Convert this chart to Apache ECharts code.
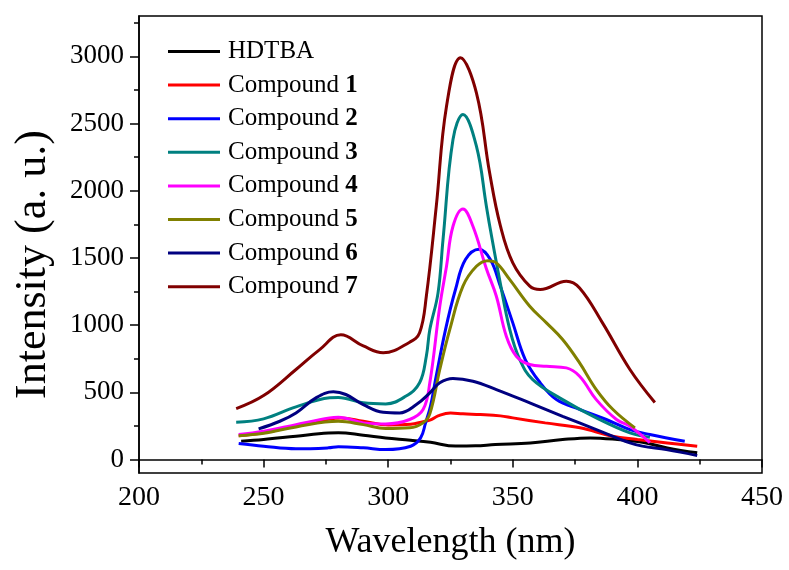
<!DOCTYPE html>
<html>
<head>
<meta charset="utf-8">
<script src="https://cdn.jsdelivr.net/npm/echarts@6/dist/echarts.min.js"></script>
<style>html,body{margin:0;padding:0;background:#fff}#c{width:789px;height:570px}</style>
</head>
<body>
<div id="c"></div>
<script>
const seriesNames = ['HDTBA','Compound 1','Compound 2','Compound 3','Compound 4','Compound 5','Compound 6','Compound 7'];
const seriesColors = ['#000000','#ff0000','#0000ff','#008080','#ff00ff','#808000','#000080','#800000'];
const xTicks = [200,250,300,350,400,450];
const yTickLabels = [0,500,1000,1500,2000,2500,3000];
const yMinorTicks = [250,750,1250,1750,2250,2750,3250];

const hdtba = [[241,136],[250,149],[263,174],[276,198],[280,200],[290,181],[299,161],[309,144],[317,128],[327,100],[335,102],[343,112],[357,124],[370,149],[381,161],[392,149],[402,128],[412,87],[424,50]];
const comp1 = [[240,178],[250,200],[263,250],[276,300],[281,310],[290,285],[300,258],[309,262],[314,282],[317,295],[320,325],[325,347],[330,340],[337,335],[345,325],[350,310],[363,273],[377,236],[390,174],[400,150],[412,124],[424,99]];
const comp2 = [[240,119],[250,99],[263,80],[276,87],[280,95],[290,87],[299,74],[309,99],[313,161],[315,273],[317,400],[319,595],[323,967],[327,1265],[331,1488],[336.5,1565],[341,1488],[345,1290],[350,1017],[355,744],[361,571],[367.5,446],[377,372],[387.5,298],[397,223],[405,186],[419,136]];
const comp3 = [[239,278],[250,303],[263,392],[276.5,459],[280,462],[290,422],[299,414],[307,471],[312.6,571],[315.3,769],[316.7,967],[320,1240],[322,1637],[326,2381],[330,2567],[335.4,2331],[339.4,1885],[341,1711],[344.7,1339],[348.8,967],[352.8,744],[358,595],[370,446],[383.5,310],[397,198],[405,165]];
const comp4 = [[240,186],[250,211],[263,260],[276.5,310],[280,315],[290,273],[299,265],[308.6,298],[314,372],[316.7,571],[320.7,1141],[323.4,1438],[326,1736],[330,1865],[334,1736],[339.4,1420],[343.4,1215],[347.4,917],[351.4,769],[356.8,707],[363.5,694],[371.5,682],[376.8,620],[383.5,446],[391.6,298],[397,248],[405,126]];
const comp5 = [[240,178],[250,196],[263,243],[280,285],[290,260],[299,231],[308.6,236],[314,273],[316.7,340],[320.7,670],[324.7,967],[330,1290],[335.4,1438],[340,1480],[343.4,1463],[348.8,1339],[356.8,1141],[363.5,1017],[370,893],[376.8,719],[383.5,521],[390.2,372],[399,236]];
const comp6 = [[248,228],[256.5,285],[263,347],[271,459],[278,504],[283,484],[290,409],[298,352],[304.6,347],[311.3,409],[316.7,496],[320.7,571],[326,603],[334,583],[343.4,521],[356.8,422],[370,322],[383.5,223],[397,124],[402,100],[411.6,74],[424,30]];
const comp7 = [[239,379],[250,476],[263,670],[272.5,818],[281,928],[290,845],[298,794],[308.6,873],[312.6,943],[315.3,1215],[319.3,1885],[323.4,2629],[329,2990],[335.4,2728],[340.7,2133],[345,1740],[350,1463],[356.8,1290],[361,1265],[371.5,1327],[376.8,1277],[386,1017],[397,670],[407,424]];
const seriesData = [hdtba, comp1, comp2, comp3, comp4, comp5, comp6, comp7];

const FONT = 'Liberation Serif';
const plain = function (v) { return String(v); };
const chart = echarts.init(document.getElementById('c'), null, {renderer: 'canvas'});
chart.setOption({
  animation: false,
  backgroundColor: '#fff',
  grid: {left: 139, right: 27, top: 16, bottom: 97, show: true, borderColor: '#000', borderWidth: 1.5, backgroundColor: 'transparent'},
  legend: {
    orient: 'vertical', left: 168, top: 39, padding: 0,
    itemWidth: 52, itemHeight: 3, itemGap: 8.6, icon: 'rect',
    data: seriesNames,
    formatter: function (name) {
      if (name.indexOf(' ') < 0) return name;
      const p = name.split(' ');
      return p[0] + ' {b|' + p[1] + '}';
    },
    textStyle: {fontFamily: FONT, fontSize: 25, color: '#000', lineHeight: 24, padding: [0, 0, 0, 3],
      rich: {b: {fontFamily: FONT, fontSize: 25, fontWeight: 'bold', color: '#000', lineHeight: 24}}}
  },
  xAxis: {
    type: 'value', min: 200, max: 450, interval: 50,
    name: 'Wavelength (nm)', nameLocation: 'middle', nameGap: 52,
    nameTextStyle: {fontFamily: FONT, fontSize: 36, color: '#000'},
    axisLine: {show: true, lineStyle: {color: '#000', width: 1.5}},
    axisTick: {show: true, length: 8, lineStyle: {color: '#000', width: 1.5}},
    minorTick: {show: true, splitNumber: 2, length: 5, lineStyle: {color: '#000', width: 1.5}},
    axisLabel: {fontFamily: FONT, fontSize: 28, color: '#000', margin: 11,
      customValues: xTicks, formatter: plain},
    splitLine: {show: false}
  },
  yAxis: [{
    type: 'value', min: -100, max: 3300,
    name: 'Intensity (a. u.)', nameLocation: 'middle', nameGap: 84,
    nameTextStyle: {fontFamily: FONT, fontSize: 44, color: '#000', padding: [0, 40, 0, 0]},
    axisLine: {show: true, lineStyle: {color: '#000', width: 1.5}},
    axisTick: {show: true, length: 9, customValues: yTickLabels, lineStyle: {color: '#000', width: 1.5}},
    axisLabel: {fontFamily: FONT, fontSize: 27, color: '#000', margin: 15, customValues: yTickLabels, formatter: plain},
    splitLine: {show: false}
  }, {
    type: 'value', min: -100, max: 3300, position: 'left',
    axisLine: {show: false},
    axisTick: {show: true, length: 5, customValues: yMinorTicks, lineStyle: {color: '#000', width: 1.5}},
    axisLabel: {show: false, customValues: yMinorTicks},
    splitLine: {show: false}
  }],
  series: seriesNames.map(function (n, i) {
    return {
      name: n, type: 'line', data: seriesData[i], smooth: 0.4,
      showSymbol: false, symbol: 'none',
      lineStyle: {color: seriesColors[i], width: 3},
      itemStyle: {color: seriesColors[i]}
    };
  })
});
</script>
</body>
</html>
